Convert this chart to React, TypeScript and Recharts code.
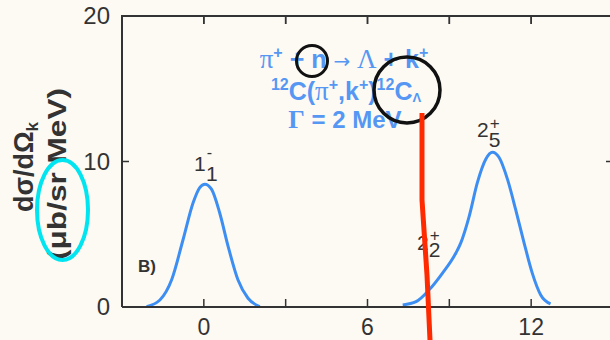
import React from "react";
import { LineChart, Line, XAxis, YAxis } from "recharts";

// excitation energy (MeV) and cross section
const peak1X = [-2.1, -1.61, -1.18, -0.76, -0.39, -0.15, 0.04, 0.28, 0.58, 0.89, 1.25, 1.62, 2.05];
const peak1Y = [0.02, 0.48, 1.87, 4.64, 7.18, 8.21, 8.44, 8.1, 6.48, 4.17, 1.87, 0.6, 0.02];
const peak2X = [7.29, 7.78, 8.26, 8.75, 9.24, 9.42, 9.73, 10.03, 10.34, 10.58, 10.82, 11.13, 11.43, 11.74, 12.04, 12.35, 12.71];
const peak2Y = [0.14, 0.37, 1.18, 2.33, 3.71, 4.41, 6.25, 8.56, 10.17, 10.63, 10.29, 8.79, 6.71, 4.41, 2.33, 0.83, 0.21];

const xTicks = [0, 3, 6, 9, 12];
const xLabels = [0, 6, 12];
const yTicks = [0, 10, 20];

const peak1 = peak1X.map((x, i) => ({ x, y: peak1Y[i] }));
const peak2 = peak2X.map((x, i) => ({ x, y: peak2Y[i] }));

const ink = "#333";
const blue = "#5597f3";
const sans = "'Liberation Sans', Arial, sans-serif";
const serif = "'Liberation Serif', 'Times New Roman', serif";

// plot box: top 16, bottom 307
const plotH = 291;

const BottomTick = (props: any) => {
    const { x, y, payload } = props;
    return (
        <g>
            <line x1={x} x2={x} y1={y} y2={y - 8} stroke={ink} strokeWidth={1.5} />
            {/* matching tick on the top frame */}
            <line x1={x} x2={x} y1={y - plotH} y2={y - plotH + 8} stroke={ink} strokeWidth={1.5} />
            {xLabels.includes(payload.value) && (
                <text x={x} y={y + 28} textAnchor="middle" fontSize={23} fill={ink} fontFamily={sans}>
                    {payload.value}
                </text>
            )}
        </g>
    );
};

const TopTick = (props: any) => {
    const { x, y } = props;
    return <line x1={x} x2={x} y1={y} y2={y + 8} stroke={ink} strokeWidth={1.5} />;
};

const LeftTick = (props: any) => {
    const { x, y, payload } = props;
    return (
        <g>
            {payload.value === 10 && <line x1={x} x2={x + 7} y1={y} y2={y} stroke={ink} strokeWidth={1.5} />}
            <text x={x - 12} y={y + 8} textAnchor="end" fontSize={24} fill={ink} fontFamily={sans}>
                {payload.value}
            </text>
        </g>
    );
};

const RightTick = (props: any) => {
    const { x, y, payload } = props;
    return payload.value === 10 ? <line x1={x} x2={x - 7} y1={y} y2={y} stroke={ink} strokeWidth={1.5} /> : <g />;
};

const Overlay: React.FC = () => (
    <svg width={610} height={340} style={{ position: "absolute", left: 0, top: 0, pointerEvents: "none" }}>
        {/* top frame of the plot box */}
        <line x1={121} x2={614} y1={16} y2={16} stroke={ink} strokeWidth={2} />

        {/* y axis title */}
        <text transform="translate(33,167) rotate(-90)" textAnchor="middle" fontSize={27} fontWeight="bold" fill={ink} fontFamily={sans}>
            dσ/dΩ<tspan fontSize={17} dy={5}>k</tspan>
        </text>
        <text transform="translate(66,174) rotate(-90)" textAnchor="middle" fontSize={26} fontWeight="bold" fill={ink} fontFamily={sans} textLength={172} lengthAdjust="spacingAndGlyphs">
            (μb/sr MeV)
        </text>

        {/* reaction text */}
        <g fill={blue} fontWeight="bold" fontFamily={sans} textAnchor="middle">
            <text x={344} y={68} fontSize={25}>
                <tspan fontFamily={serif} fontWeight="normal" fontSize={27}>π</tspan>
                <tspan fontSize={16} dy={-10}>+</tspan>
                <tspan dy={10}> + n </tspan>
                <tspan fontFamily="'DejaVu Sans'" fontWeight="normal" fontSize={20}>→</tspan>
                <tspan fontFamily={serif} fontWeight="normal" fontSize={27}> Λ</tspan>
                <tspan> + k</tspan>
                <tspan fontSize={16} dy={-10}>+</tspan>
            </text>
            <text x={346} y={100} fontSize={25}>
                <tspan fontSize={16} dy={-10}>12</tspan>
                <tspan dy={10}>C(</tspan>
                <tspan fontFamily={serif} fontWeight="normal" fontSize={27}>π</tspan>
                <tspan fontSize={16} dy={-10}>+</tspan>
                <tspan dy={10}>,k</tspan>
                <tspan fontSize={16} dy={-10}>+</tspan>
                <tspan dy={10}>)</tspan>
                <tspan fontSize={16} dy={-10}>12</tspan>
                <tspan dy={10}>C</tspan>
                <tspan fontSize={13} dy={2}>Λ</tspan>
            </text>
            <text x={345} y={128} fontSize={24}>
                <tspan fontFamily={serif} fontSize={26}>Γ</tspan> = 2 MeV
            </text>
        </g>

        {/* level labels */}
        <g fill={ink} fontFamily={sans} fontSize={21}>
            <text x={194} y={171}>
                1<tspan fontSize={16} dx={1} dy={-13}>-</tspan>
                <tspan dx={-6} dy={23}>1</tspan>
            </text>
            <text x={477} y={137}>
                2<tspan fontSize={17} dx={1} dy={-8}>+</tspan>
                <tspan dx={-11} dy={18}>5</tspan>
            </text>
            <text x={417} y={250}>
                2<tspan fontSize={17} dx={1} dy={-9}>+</tspan>
                <tspan dx={-11} dy={16}>2</tspan>
            </text>
            <text x={138} y={272} fontSize={17} fontWeight="bold">B)</text>
        </g>

        {/* hand-drawn marks on the scan */}
        <circle cx={312} cy={61} r={15.5} fill="none" stroke="#111" strokeWidth={3} />
        <circle cx={407} cy={90} r={33} fill="none" stroke="#111" strokeWidth={3.5} />
        <polyline points="422,113 422,200 427,275 430,340" fill="none" stroke="#ff2a00" strokeWidth={5} />
        <ellipse cx={62.5} cy={210} rx={25.5} ry={50} fill="none" stroke="#00e5f0" strokeWidth={4} />
    </svg>
);

const App: React.FC = () => {
    return (
        <div style={{ position: "fixed", left: 0, top: 0, width: 610, height: 340, overflow: "hidden", background: "#fdfaf4" }}>
            <LineChart width={640} height={340} margin={{ top: 4, right: 25, bottom: 3, left: 62 }}>
                <XAxis
                    dataKey="x"
                    type="number"
                    domain={[-3, 15]}
                    ticks={xTicks}
                    allowDataOverflow
                    height={30}
                    tickSize={0}
                    tickMargin={0}
                    tick={BottomTick}
                    stroke={ink}
                    strokeWidth={2}
                />
                <XAxis
                    xAxisId="top"
                    orientation="top"
                    dataKey="x"
                    type="number"
                    domain={[-3, 15]}
                    ticks={xTicks}
                    allowDataOverflow
                    height={12}
                    tickSize={0}
                    tickMargin={0}
                    tick={TopTick}
                    stroke={ink}
                    strokeWidth={2}
                />
                <YAxis
                    type="number"
                    domain={[0, 20]}
                    ticks={yTicks}
                    allowDataOverflow
                    width={60}
                    tickSize={0}
                    tickMargin={0}
                    tick={LeftTick}
                    stroke={ink}
                    strokeWidth={2}
                />
                <YAxis
                    yAxisId="right"
                    orientation="right"
                    type="number"
                    domain={[0, 20]}
                    ticks={yTicks}
                    allowDataOverflow
                    width={2}
                    tickSize={0}
                    tickMargin={0}
                    tick={RightTick}
                    stroke={ink}
                    strokeWidth={2}
                />
                <Line data={peak1} dataKey="y" xAxisId="top" yAxisId="right" type="monotone" stroke="#3d8ef2" strokeWidth={3} dot={false} isAnimationActive={false} />
                <Line data={peak2} dataKey="y" type="monotone" stroke="#3d8ef2" strokeWidth={3} dot={false} isAnimationActive={false} />
            </LineChart>
            <Overlay />
        </div>
    );
};

export default App;
